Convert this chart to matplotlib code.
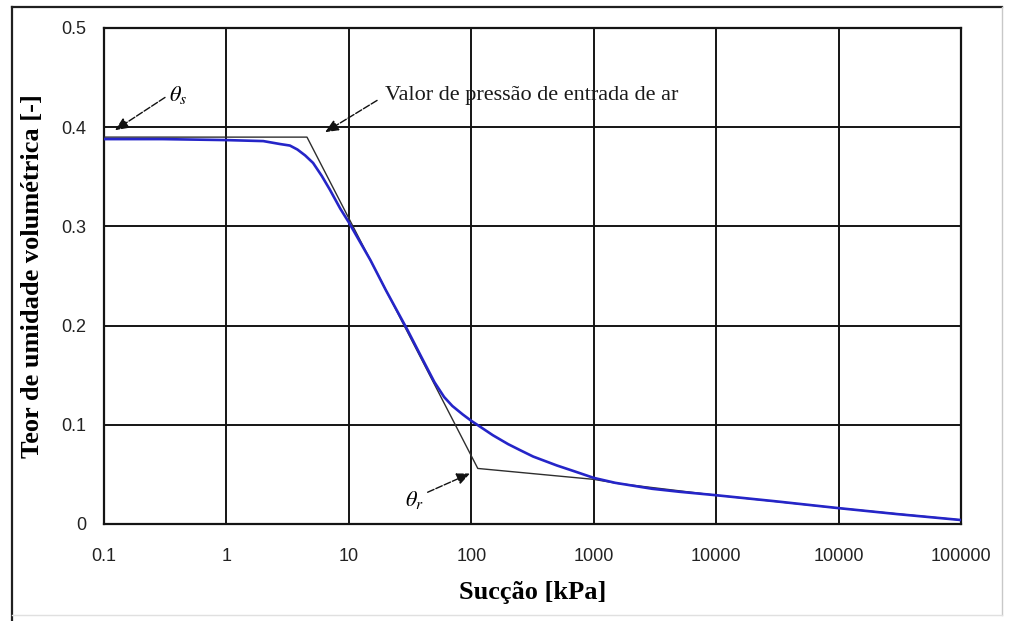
"""
Curva de retenção de água no solo: ajuste contínuo e aproximação por segmentos.
"""

import matplotlib
matplotlib.use("Agg")
import matplotlib.pyplot as plt
from matplotlib.lines import Line2D
from matplotlib.ticker import NullLocator

plt.rcParams["mathtext.fontset"] = "stix"

# Fitted retention curve (suction in kPa, volumetric water content)
suction_fit = [0.1, 0.3, 1, 2, 2.75, 3.3, 3.8, 4.4, 5.1, 6, 7, 8.5, 10, 15,
               20, 30, 40, 50, 60, 70, 85, 100, 120, 150, 200, 250, 320, 500,
               700, 1000, 1500, 2000, 3000, 5000, 10000, 30000, 100000,
               300000, 1000000]
theta_fit = [0.388, 0.388, 0.387, 0.386, 0.383, 0.3815, 0.3775, 0.3715,
             0.364, 0.351, 0.337, 0.318, 0.304, 0.266, 0.236, 0.196, 0.166,
             0.143, 0.128, 0.119, 0.1105, 0.104, 0.0975, 0.0895, 0.0805,
             0.0745, 0.068, 0.059, 0.053, 0.0465, 0.0415, 0.039, 0.0355,
             0.0325, 0.029, 0.023, 0.016, 0.010, 0.004]

# Piecewise construction (saturated plateau, desaturation slope, residual)
suction_lin = [0.1, 4.55, 113, 1000, 1550, 10000, 100000, 1000000]
theta_lin = [0.390, 0.390, 0.056, 0.045, 0.041, 0.029, 0.016, 0.004]

x_ticks = [0.1, 1, 10, 100, 1000, 10000, 100000, 1000000]
x_tick_labels = ["0.1", "1", "10", "100", "1000", "10000", "10000", "100000"]
y_ticks = [0, 0.1, 0.2, 0.3, 0.4, 0.5]
y_tick_labels = ["0", "0.1", "0.2", "0.3", "0.4", "0.5"]

SERIF = "Liberation Serif"
SANS = "Liberation Sans"
GRID = "#141414"


fig = plt.figure(figsize=(10.13, 6.21), dpi=100)
W, H = 1013, 621
ax = fig.add_axes([104 / W, 1 - 524 / H, (961 - 104) / W, (524 - 28) / H])

# outer frame around the whole chart
fig.add_artist(Line2D([12 / W, 12 / W], [0, 1 - 7 / H], transform=fig.transFigure,
                      color="#202020", lw=1.6))
fig.add_artist(Line2D([12 / W, 1002 / W], [1 - 7 / H, 1 - 7 / H],
                      transform=fig.transFigure, color="#202020", lw=1.6))
fig.add_artist(Line2D([1002 / W, 1002 / W], [1 - 7 / H, 1 - 615 / H],
                      transform=fig.transFigure, color="#c8c8c8", lw=1.0))
fig.add_artist(Line2D([12 / W, 1002 / W], [1 - 615 / H, 1 - 615 / H],
                      transform=fig.transFigure, color="#e0e0e0", lw=1.0))

ax.plot(suction_lin, theta_lin, color="#2e2e2e", lw=1.0, zorder=3)
ax.plot(suction_fit, theta_fit, color="#2525c8", lw=1.9, zorder=4,
        solid_joinstyle="round")

ax.set_xscale("log")
ax.set_xlim(0.1, 1000000)
ax.set_ylim(0, 0.5)
ax.set_xticks(x_ticks)
ax.set_xticklabels(x_tick_labels, fontfamily=SANS)
ax.xaxis.set_minor_locator(NullLocator())
ax.set_yticks(y_ticks)
ax.set_yticklabels(y_tick_labels, fontfamily=SANS)
ax.tick_params(axis="both", length=0, labelsize=13, colors="#222222")
ax.tick_params(axis="x", pad=17)
ax.tick_params(axis="y", pad=13)

ax.grid(True, color=GRID, lw=1.4)
ax.set_axisbelow(True)
for s in ax.spines.values():
    s.set_color(GRID)
    s.set_linewidth(1.6)

ax.set_xlabel("Sucção [kPa]", fontfamily=SERIF, fontweight="bold",
              fontsize=19, labelpad=12)
ax.set_ylabel("Teor de umidade volumétrica [-]", fontfamily=SERIF,
              fontweight="bold", fontsize=19, labelpad=12)

arrow = dict(arrowstyle="-|>,head_length=0.8,head_width=0.35", color="#111111",
             lw=1.0, linestyle=(0, (5, 1.5)), shrinkA=0, shrinkB=0)

ax.annotate("", xy=(0.123, 0.397), xytext=(0.315, 0.430), arrowprops=arrow)
ax.text(0.34, 0.432, r"$\theta_s$", fontsize=16, va="center")

ax.annotate("", xy=(6.4, 0.395), xytext=(17, 0.427), arrowprops=arrow)
ax.text(19.8, 0.432, "Valor de pressão de entrada de ar", fontsize=16,
        family=SERIF, va="center", color="#1a1a1a")

ax.annotate("", xy=(97.7, 0.051), xytext=(44, 0.032), arrowprops=arrow)
ax.text(28.8, 0.024, r"$\theta_r$", fontsize=16, va="center")

fig.savefig("out.png", dpi=100)
